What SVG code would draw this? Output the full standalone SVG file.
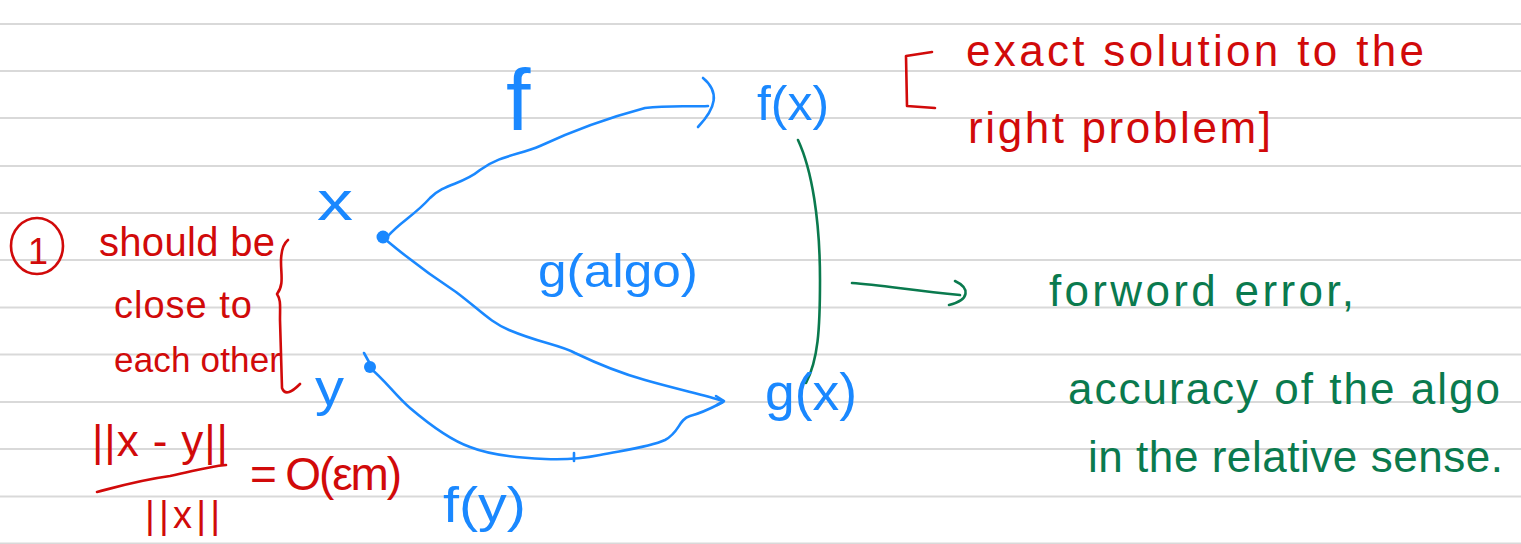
<svg xmlns="http://www.w3.org/2000/svg" width="1521" height="544" viewBox="0 0 1521 544">
<style>
.rule{stroke:#d9d9d9;stroke-width:2;fill:none}
.blue{fill:#1a88ff;font-family:"Liberation Sans",Arial,sans-serif}
.red{fill:#d10a0a;font-family:"Liberation Sans",Arial,sans-serif}
.green{fill:#0a7a4e;font-family:"Liberation Sans",Arial,sans-serif}
.bl{stroke:#1a88ff;stroke-width:2.6;fill:none;stroke-linecap:round;stroke-linejoin:round}
.rl{stroke:#d10a0a;stroke-width:2.6;fill:none;stroke-linecap:round;stroke-linejoin:round}
.gl{stroke:#0a7a4e;stroke-width:2.6;fill:none;stroke-linecap:round;stroke-linejoin:round}
</style>
<rect width="1521" height="544" fill="#ffffff"/>
<g id="rules">
<line class="rule" x1="0" y1="24" x2="1521" y2="24"/>
<line class="rule" x1="0" y1="71" x2="1521" y2="71"/>
<line class="rule" x1="0" y1="118" x2="1521" y2="118"/>
<line class="rule" x1="0" y1="166" x2="1521" y2="166"/>
<line class="rule" x1="0" y1="213" x2="1521" y2="213"/>
<line class="rule" x1="0" y1="260" x2="1521" y2="260"/>
<line class="rule" x1="0" y1="307.5" x2="1521" y2="307.5"/>
<line class="rule" x1="0" y1="354.5" x2="1521" y2="354.5"/>
<line class="rule" x1="0" y1="402" x2="1521" y2="402"/>
<line class="rule" x1="0" y1="449" x2="1521" y2="449"/>
<line class="rule" x1="0" y1="496.5" x2="1521" y2="496.5"/>
<line class="rule" x1="0" y1="543.5" x2="1521" y2="543.5"/>
</g>
<g id="connectors">
<path class="bl" d="M388,236 C400,222 415,215 430,198 C445,183 462,185 480,170 C500,155 520,155 540,146 C570,132 600,120 645,108 C670,105 690,107 708,106"/>
<path class="bl" d="M703,78 C720,92 716,108 698,127"/>
<path class="bl" d="M386,240 C410,260 430,275 456,292 C480,310 490,322 509,330 C540,343 560,345 575,353 C600,365 620,373 645,380 C680,390 705,395 723,401"/>
<path class="bl" d="M716,396 L724,401 L717,405"/>
<path class="bl" d="M370,368 C385,380 395,395 410,408 C430,425 450,440 470,447 C490,455 520,458 545,459 C565,460 585,458 600,455 C625,450 650,447 665,440 C680,432 678,420 690,416 C705,412 715,406 723,402"/>
<path class="bl" d="M574,453 L574,461"/>
<path class="gl" d="M798,140 C812,170 820,220 820,280 C820,330 818,360 806,383"/>
<path class="gl" d="M852,283 C880,285 910,290 960,295"/>
<path class="gl" d="M955,281 C970,288 970,300 949,305"/>
</g>
<g id="node-x">
<circle cx="383" cy="237" r="6.5" fill="#1a88ff"/>
<text class="blue" x="317" y="220" font-size="56" textLength="36" lengthAdjust="spacingAndGlyphs">x</text>
</g>
<g id="node-y">
<circle cx="370" cy="367" r="6" fill="#1a88ff"/>
<path class="bl" d="M364,353 L369,362"/>
<text class="blue" x="315" y="405" font-size="52" textLength="29" lengthAdjust="spacingAndGlyphs">y</text>
</g>
<g id="node-fx">
<text class="blue" x="757" y="120" font-size="48" textLength="72" lengthAdjust="spacingAndGlyphs">f(x)</text>
</g>
<g id="node-gx">
<text class="blue" x="765" y="410" font-size="52" textLength="92" lengthAdjust="spacingAndGlyphs">g(x)</text>
</g>
<g id="label-f">
<text class="blue" x="506" y="130" font-size="88">f</text>
</g>
<g id="label-galgo">
<text class="blue" x="538" y="287" font-size="46" textLength="160" lengthAdjust="spacingAndGlyphs">g(algo)</text>
</g>
<g id="label-fy">
<text class="blue" x="443" y="522" font-size="50" textLength="83" lengthAdjust="spacingAndGlyphs">f(y)</text>
</g>
<g id="note-exact">
<path class="rl" d="M932,52 L906,56 L907,106 L935,108"/>
<text class="red" x="966" y="66" font-size="44" textLength="458" lengthAdjust="spacing">exact solution to the</text>
<text class="red" x="968" y="143" font-size="44" textLength="303" lengthAdjust="spacing">right problem]</text>
</g>
<g id="note-close">
<ellipse class="rl" cx="37" cy="246" rx="26" ry="28"/>
<text class="red" x="28" y="264" font-size="36">1</text>
<text class="red" x="99" y="256" font-size="40" textLength="176" lengthAdjust="spacing">should be</text>
<text class="red" x="114" y="318" font-size="38" textLength="138" lengthAdjust="spacing">close to</text>
<text class="red" x="114" y="372" font-size="35" textLength="167" lengthAdjust="spacing">each other</text>
<path class="rl" d="M288,240 C283,244 281,252 281,262 C281,275 284,285 277,294 C281,300 280,305 280,320 L282,388 C285,396 292,392 300,384"/>
</g>
<g id="note-ratio">
<text class="red" x="92" y="456" font-size="44" textLength="136" lengthAdjust="spacing">||x - y||</text>
<path class="rl" d="M97,492 C120,486 140,480 170,476 C195,471 205,467 226,465"/>
<text class="red" x="145" y="528" font-size="38" textLength="75" lengthAdjust="spacing">||x||</text>
<text class="red" x="250" y="490" font-size="46" textLength="152" lengthAdjust="spacing">= O(εm)</text>
</g>
<g id="note-forward">
<text class="green" x="1049" y="306" font-size="44" textLength="305" lengthAdjust="spacing">forword error,</text>
<text class="green" x="1068" y="404" font-size="44" textLength="432" lengthAdjust="spacing">accuracy of the algo</text>
<text class="green" x="1088" y="472" font-size="44" textLength="415" lengthAdjust="spacing">in the relative sense.</text>
</g>
</svg>
